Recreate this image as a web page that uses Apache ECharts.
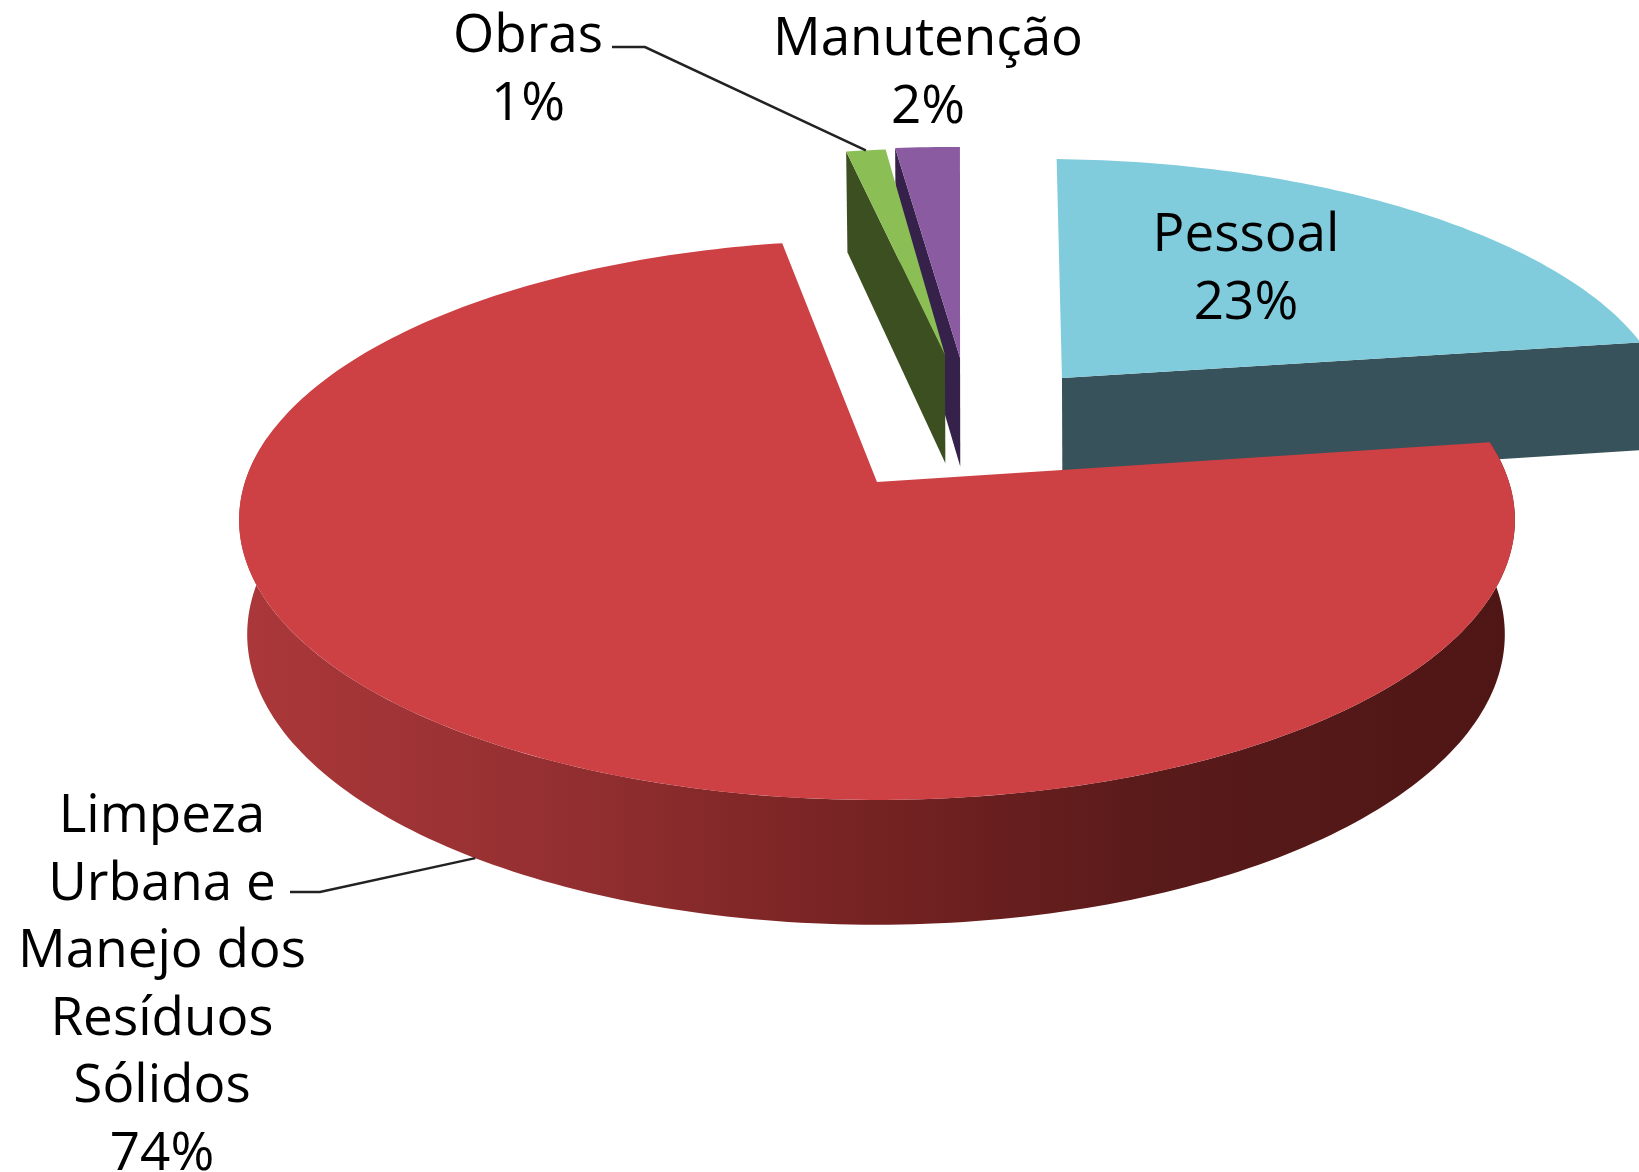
<!DOCTYPE html>
<html>
<head>
<meta charset="utf-8">
<script src="https://cdn.jsdelivr.net/npm/echarts@6/dist/echarts.min.js"></script>
<style>html,body{margin:0;padding:0;background:#fff}#c{width:1639px;height:1172px;filter:blur(0.7px)}</style>
</head>
<body>
<div id="c"></div>
<script>
// ---- data ----
var categories = ['Pessoal', 'Limpeza Urbana e Manejo dos Resíduos Sólidos', 'Obras', 'Manutenção'];
var labelLines = [['Pessoal'], ['Limpeza', 'Urbana e', 'Manejo dos', 'Resíduos', 'Sólidos'], ['Obras'], ['Manutenção']];
var values = [23, 74, 1, 2];

// ---- styles ----
var topColors = ['#80ccdd', '#cd4044', '#8bbf55', '#8a5ba0'];
var wallColors = ['#37525a', null, '#3b4f20', '#35214a'];
var redWallStops = [
  { offset: 0, color: '#ab383a' }, { offset: 0.25, color: '#942f31' },
  { offset: 0.5, color: '#752222' }, { offset: 0.72, color: '#591a1a' }, { offset: 1, color: '#4e1615' }
];

// ---- layout of the 3-D projection ----
var startAngle = 1.7;
var sweepScale = [0.964, 1.0086, 1.25, 1];
var angleShift = [0, 0, -0.6, 0];
var explodeU = [0.3085, 0, 0.1148, 0.14];
var explodeV = [-0.3985, 0, -0.493, -0.4806];
var radiusScale = [1, 1, 0.96, 0.98];
var drawRank = [0, 3, 2, 1];
var topDisc = { cx: 877, cy: 482, rx: 632, ry: 274.8 };
var baseDiscs = [
  { cx: 878, cy: 595, rx: 630, ry: 285 },
  { cx: 876, cy: 595, rx: 623, ry: 285 },
  { cx: 878, cy: 595, rx: 626, ry: 285 },
  { cx: 878, cy: 595, rx: 626, ry: 285 }
];
var perspective = 0.1357;
var labelX = [1246, 162, 528, 928];
var labelY = [270, 986, 71, 74];
var leaderStart = [null, [290, 892], [612, 47], null];
var leaderElbow = [null, [320, 892], [645, 47], null];
var leaderOnBase = [false, true, false, false];
var leaderAngleShift = [0, -1, 0, 0];
var fontFamily = '"Open Sans", sans-serif';

function project(disc, u, v) {
  var w = 1 - perspective * v;
  return [disc.cx + disc.rx * u / w, disc.cy + disc.ry * v / w];
}
function rimPoint(disc, i, deg) {
  var a = deg * Math.PI / 180, r = radiusScale[i];
  return project(disc, explodeU[i] + r * Math.sin(a), explodeV[i] - r * Math.cos(a));
}
function sliceAngles(i) {
  var a = startAngle;
  for (var k = 0; k < i; k++) a += values[k] * 3.6 * (k === 2 ? 1 : sweepScale[k]);
  a += angleShift[i];
  return [a, a + values[i] * 3.6 * sweepScale[i]];
}

function renderItem(params, api) {
  var i = params.dataIndex;
  var value = api.value(0);
  var ang = sliceAngles(i);
  var rank = drawRank[i] * 10;
  var children = [];
  var baseDisc = baseDiscs[i];
  var apex = project(topDisc, explodeU[i], explodeV[i]);
  var apexBase = project(baseDisc, explodeU[i], explodeV[i]);

  // side walls
  if (i === 0) {
    children.push({ type: 'polygon', z2: rank, silent: true,
      shape: { points: [apex, rimPoint(topDisc, i, ang[1]), rimPoint(baseDisc, i, ang[1]), apexBase] },
      style: { fill: wallColors[i] } });
  } else if (wallColors[i]) {
    children.push({ type: 'polygon', z2: rank, silent: true,
      shape: { points: [apex, rimPoint(topDisc, i, ang[0]), rimPoint(baseDisc, i, ang[0]), apexBase] },
      style: { fill: wallColors[i] } });
  } else {
    var wall = [], d;
    for (d = ang[0]; d <= 280; d += 1) wall.push(rimPoint(topDisc, i, d));
    for (d = 280; d >= ang[0]; d -= 1) wall.push(rimPoint(baseDisc, i, d));
    children.push({ type: 'polygon', z2: rank, silent: true, shape: { points: wall },
      style: { fill: new echarts.graphic.LinearGradient(0, 0, 1, 0, redWallStops) } });
  }

  // top face
  var pts = [apex];
  var n = Math.max(2, Math.ceil(ang[1] - ang[0]));
  for (var s = 0; s <= n; s++) pts.push(rimPoint(topDisc, i, ang[0] + (ang[1] - ang[0]) * s / n));
  children.push({ type: 'polygon', z2: rank + 1, silent: true, shape: { points: pts }, style: { fill: topColors[i] } });

  // leader line
  if (leaderStart[i]) {
    var mid = (ang[0] + ang[1]) / 2 + leaderAngleShift[i];
    children.push({ type: 'polyline', z2: 90, silent: true,
      shape: { points: [leaderStart[i], leaderElbow[i], rimPoint(leaderOnBase[i] ? baseDisc : topDisc, i, mid)] },
      style: { fill: null, stroke: '#222222', lineWidth: 2.5 } });
  }

  // label
  children.push({ type: 'text', z2: 100, silent: true, style: {
    x: labelX[i], y: labelY[i], text: labelLines[i].concat([Math.round(value) + '%']).join('\n'),
    fill: '#000000', font: '53px ' + fontFamily, lineHeight: 67.5, align: 'center', verticalAlign: 'middle'
  } });
  return { type: 'group', children: children };
}

var chart = echarts.init(document.getElementById('c'), null, { renderer: 'canvas' });
chart.setOption({
  animation: false,
  backgroundColor: '#ffffff',
  series: [{
    type: 'custom',
    coordinateSystem: 'none',
    renderItem: renderItem,
    clip: false,
    data: values.map(function (v, i) { return { name: categories[i], value: [v, i] }; })
  }]
});
</script>
</body>
</html>
